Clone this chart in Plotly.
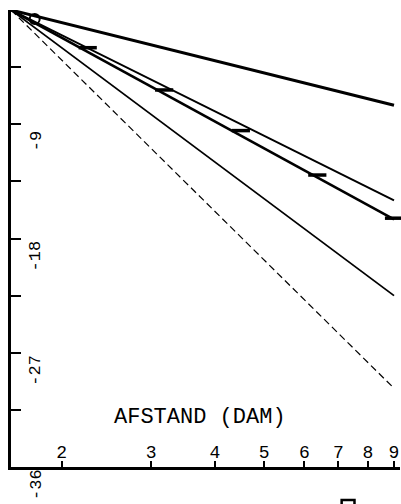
import math
import plotly.graph_objects as go

# ---- data ----
x_start = 1.59
x_end = 9.0
line_ends = [-7.5, -15.0, -16.5, -22.5, -29.8]          # y at x_end, all lines start at (x_start, 0)
line_widths = [3.0, 2.0, 2.6, 1.8, 1.2]
line_dash = ["solid", "solid", "solid", "solid", "7px,4px"]

meas_x = [2.25, 3.18, 4.5, 6.36, 9.0]
meas_y = [-2.97, -6.3, -9.5, -13.0, -16.4]

circle_x = [1.77]
circle_y = [-0.7]

x_ticks = [2, 3, 4, 5, 6, 7, 8, 9]
x_ticklabels = ["2", "3", "4", "5", "6", "7", "8", "9"]
y_ticks = [0, -4.5, -9, -13.5, -18, -22.5, -27, -31.5, -36]
y_labels = [-9, -18, -27, -36]

FONT = "Liberation Mono"

fig = go.Figure()

for end, w, d in zip(line_ends, line_widths, line_dash):
    fig.add_trace(go.Scatter(
        x=[x_start, x_end], y=[0, end], mode="lines",
        line=dict(color="black", width=w, dash=d),
        showlegend=False, hoverinfo="skip", cliponaxis=False))

fig.add_trace(go.Scatter(
    x=meas_x, y=meas_y, mode="markers",
    marker=dict(symbol="line-ew-open", size=13, color="black",
                line=dict(color="black", width=3.5)),
    showlegend=False, cliponaxis=False))

fig.add_trace(go.Scatter(
    x=circle_x, y=circle_y, mode="markers",
    marker=dict(symbol="circle-open", size=10, color="black",
                line=dict(color="black", width=2)),
    showlegend=False, cliponaxis=False))

fig.add_trace(go.Scatter(
    x=[x_start], y=[0], mode="markers",
    marker=dict(symbol="square", size=8, color="black"),
    showlegend=False, cliponaxis=False))

fig.update_xaxes(
    type="log", range=[math.log10(x_start), 0.966],
    tickvals=x_ticks, ticktext=x_ticklabels,
    ticks="inside", ticklen=6, tickwidth=2, tickcolor="black",
    ticklabelposition="inside",
    tickfont=dict(family=FONT, size=18, color="black"),
    showline=True, linecolor="black", linewidth=2.5,
    showgrid=False, zeroline=False, mirror=False)

fig.update_yaxes(
    range=[-36, 0],
    tickvals=y_ticks, showticklabels=False,
    ticks="inside", ticklen=10, tickwidth=2, tickcolor="black",
    showline=True, linecolor="black", linewidth=2.5,
    showgrid=False, zeroline=False, mirror=False)

for v in y_labels:
    fig.add_annotation(
        x=0.064, xref="paper", xanchor="center", y=v, yref="y", yshift=-17,
        text=str(v), textangle=-90, showarrow=False,
        font=dict(family=FONT, size=17, color="black"))

fig.add_annotation(
    x=0.485, xref="paper", xanchor="center", y=-32.1, yref="y",
    text="AFSTAND (DAM)", showarrow=False,
    font=dict(family=FONT, size=22, color="black"))

fig.add_shape(type="rect", xref="paper", yref="paper",
              x0=0.85, x1=0.883, y0=-0.072, y1=-0.11,
              line=dict(color="black", width=2.5))

fig.update_layout(
    width=401, height=504,
    margin=dict(l=11, r=1, t=10, b=37),
    plot_bgcolor="white", paper_bgcolor="white")

fig.write_html("out.html")
